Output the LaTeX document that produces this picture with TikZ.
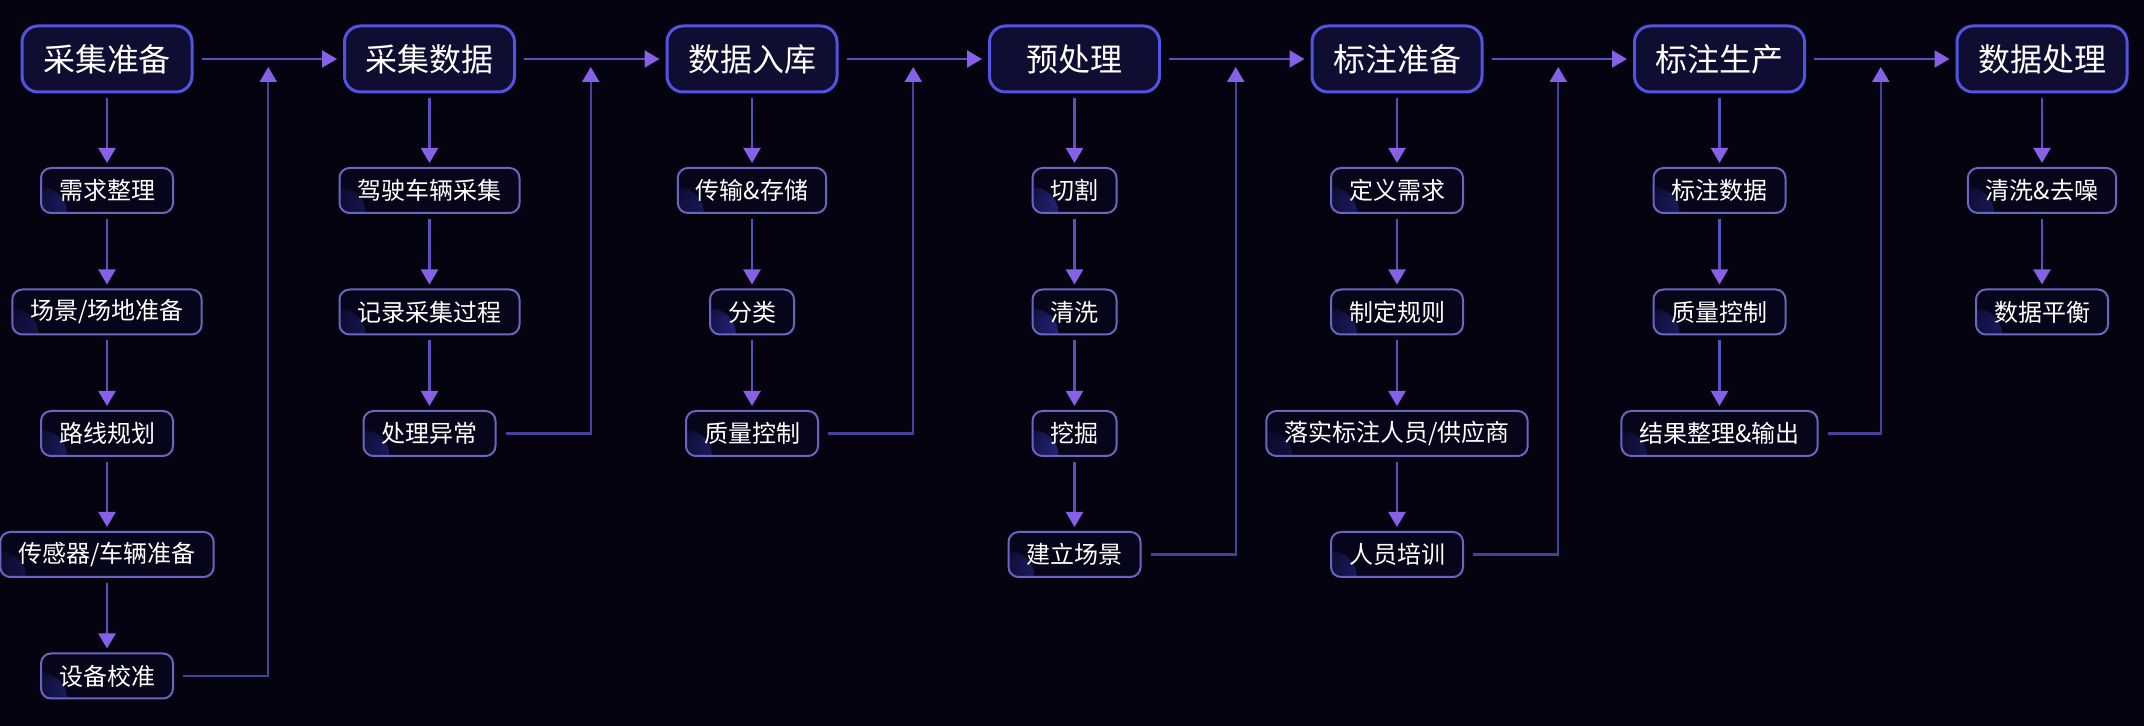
\documentclass[tikz,border=0pt]{standalone}
\usepackage{fontspec}
\newfontfamily\cjk{Noto Sans CJK SC}
\usepackage{tikz}
\usetikzlibrary{arrows.meta}
\usetikzlibrary{calc}
\usetikzlibrary{positioning}
\definecolor{bgcol}{HTML}{04030F}
\definecolor{mainfill}{HTML}{0F0D31}
\definecolor{mainedge}{HTML}{5353E2}
\definecolor{subfill}{HTML}{06051A}
\definecolor{subedge}{HTML}{6A66C0}
\definecolor{glowcol}{HTML}{262682}
\definecolor{linecol}{HTML}{5B4EC0}
\definecolor{backcol}{HTML}{45409A}
\definecolor{tipcol}{HTML}{8660E6}

\begin{document}
\begin{tikzpicture}[x=0.5pt,y=0.5pt,yscale=-1,xscale=1]
 \tikzstyle{mainbox} = [rounded corners=8pt, draw=mainedge, line width=1.5pt, fill=mainfill, text=white, minimum width=85pt, minimum height=33pt, inner sep=0pt, font=\cjk\fontsize{16}{19}\selectfont]
 \tikzstyle{subbox} = [rounded corners=5pt, draw=subedge, line width=1pt, fill=subfill, text=white, inner xsep=9pt, inner ysep=0pt, minimum height=22.5pt, font=\cjk\fontsize{12}{14}\selectfont, path picture={\shade[inner color=glowcol, outer color=subfill] (path picture bounding box.south west) circle (13pt);}]
 \tikzstyle{arrow} = [linecol, line width=1.1pt, -{Triangle[length=7.5pt,width=8.5pt,color=tipcol]}]
 \tikzstyle{down} = [arrow, shorten <=2.5pt, shorten >=2pt]
 \tikzstyle{next} = [arrow, shorten <=4pt, shorten >=3pt]
 \tikzstyle{back} = [backcol, line width=1.1pt, shorten <=4.5pt, -{Triangle[length=7.5pt,width=8.5pt,color=tipcol]}]
 %Draw the background
 \fill[bgcol] (0,0) rectangle (2144,726);
 \useasboundingbox (0,0) rectangle (2144,726);

 %Main stages
 \node[mainbox] (prep) at (107,59) {采集准备};
 \node[mainbox] (coll) at (429.5,59) {采集数据};
 \node[mainbox] (store) at (752,59) {数据入库};
 \node[mainbox] (pre) at (1074.5,59) {预处理};
 \node[mainbox] (lprep) at (1397,59) {标注准备};
 \node[mainbox] (lprod) at (1719.5,59) {标注生产};
 \node[mainbox] (proc) at (2042,59) {数据处理};

 %Steps under each stage
 \node[subbox] (prep1) at (107,190.5) {需求整理};
 \node[subbox] (prep2) at (107,312) {场景/场地准备};
 \node[subbox] (prep3) at (107,433.5) {路线规划};
 \node[subbox] (prep4) at (107,554.5) {传感器/车辆准备};
 \node[subbox] (prep5) at (107,676) {设备校准};

 \node[subbox] (coll1) at (429.5,190.5) {驾驶车辆采集};
 \node[subbox] (coll2) at (429.5,312) {记录采集过程};
 \node[subbox] (coll3) at (429.5,433.5) {处理异常};

 \node[subbox] (store1) at (752,190.5) {传输\&存储};
 \node[subbox] (store2) at (752,312) {分类};
 \node[subbox] (store3) at (752,433.5) {质量控制};

 \node[subbox] (pre1) at (1074.5,190.5) {切割};
 \node[subbox] (pre2) at (1074.5,312) {清洗};
 \node[subbox] (pre3) at (1074.5,433.5) {挖掘};
 \node[subbox] (pre4) at (1074.5,554.5) {建立场景};

 \node[subbox] (lprep1) at (1397,190.5) {定义需求};
 \node[subbox] (lprep2) at (1397,312) {制定规则};
 \node[subbox] (lprep3) at (1397,433.5) {落实标注人员/供应商};
 \node[subbox] (lprep4) at (1397,554.5) {人员培训};

 \node[subbox] (lprod1) at (1719.5,190.5) {标注数据};
 \node[subbox] (lprod2) at (1719.5,312) {质量控制};
 \node[subbox] (lprod3) at (1719.5,433.5) {结果整理\&输出};

 \node[subbox] (proc1) at (2042,190.5) {清洗\&去噪};
 \node[subbox] (proc2) at (2042,312) {数据平衡};

 %Arrows between stages
 \draw[next] (prep) -- (coll);
 \draw[next] (coll) -- (store);
 \draw[next] (store) -- (pre);
 \draw[next] (pre) -- (lprep);
 \draw[next] (lprep) -- (lprod);
 \draw[next] (lprod) -- (proc);

 %Arrows down the columns
 \draw[down] (prep) -- (prep1);
 \draw[down] (prep1) -- (prep2);
 \draw[down] (prep2) -- (prep3);
 \draw[down] (prep3) -- (prep4);
 \draw[down] (prep4) -- (prep5);
 \draw[down] (coll) -- (coll1);
 \draw[down] (coll1) -- (coll2);
 \draw[down] (coll2) -- (coll3);
 \draw[down] (store) -- (store1);
 \draw[down] (store1) -- (store2);
 \draw[down] (store2) -- (store3);
 \draw[down] (pre) -- (pre1);
 \draw[down] (pre1) -- (pre2);
 \draw[down] (pre2) -- (pre3);
 \draw[down] (pre3) -- (pre4);
 \draw[down] (lprep) -- (lprep1);
 \draw[down] (lprep1) -- (lprep2);
 \draw[down] (lprep2) -- (lprep3);
 \draw[down] (lprep3) -- (lprep4);
 \draw[down] (lprod) -- (lprod1);
 \draw[down] (lprod1) -- (lprod2);
 \draw[down] (lprod2) -- (lprod3);
 \draw[down] (proc) -- (proc1);
 \draw[down] (proc1) -- (proc2);

 %Return lines back up to the stage arrows
 \coordinate (up1) at ($(prep)!0.5!(coll)+(0,8)$);
 \coordinate (up2) at ($(coll)!0.5!(store)+(0,8)$);
 \coordinate (up3) at ($(store)!0.5!(pre)+(0,8)$);
 \coordinate (up4) at ($(pre)!0.5!(lprep)+(0,8)$);
 \coordinate (up5) at ($(lprep)!0.5!(lprod)+(0,8)$);
 \coordinate (up6) at ($(lprod)!0.5!(proc)+(0,8)$);
 \draw[back] (prep5.east) -| (up1);
 \draw[back] (coll3.east) -| (up2);
 \draw[back] (store3.east) -| (up3);
 \draw[back] (pre4.east) -| (up4);
 \draw[back] (lprep4.east) -| (up5);
 \draw[back] (lprod3.east) -| (up6);
\end{tikzpicture}
\end{document}
